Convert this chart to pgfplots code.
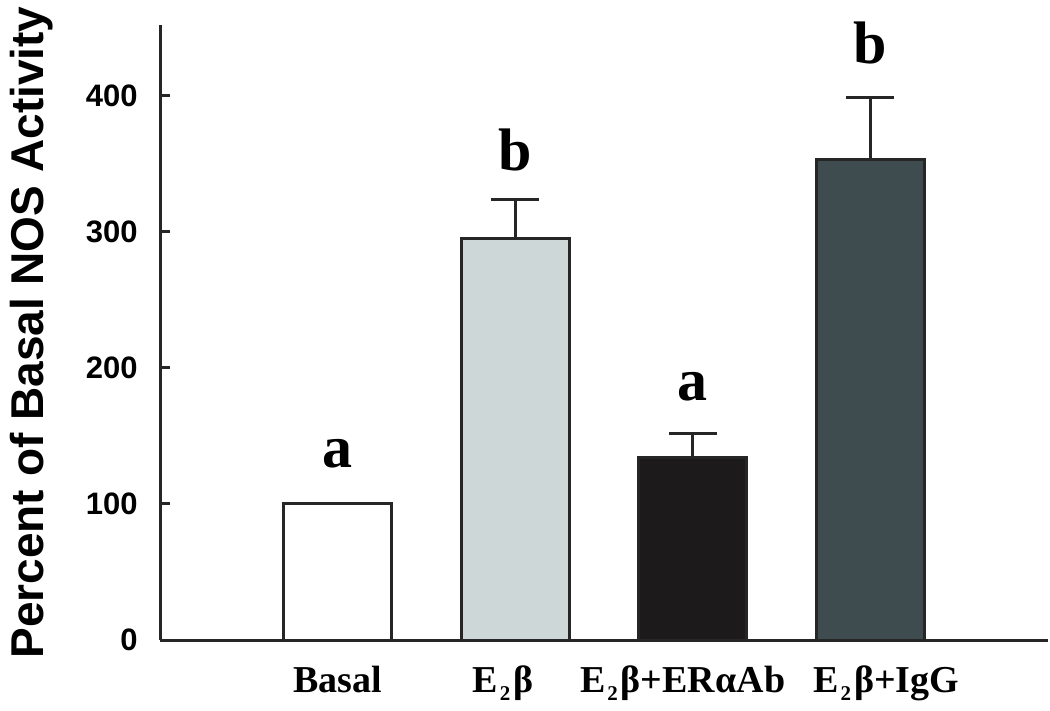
\documentclass[border=0pt]{standalone}
\usepackage{pgfplots}
\pgfplotsset{compat=1.18}
\usepackage{fontspec}
\setmainfont{Liberation Serif}
\newfontfamily\arial{Liberation Sans}
\definecolor{lightbar}{HTML}{CDD7D7}
\definecolor{blackbar}{HTML}{1C1A1A}
\definecolor{slatebar}{HTML}{3E4B4F}
\definecolor{edge}{HTML}{262626}
\newcommand{\Etwo}{E\kern0.8pt\raisebox{-4pt}{\fontsize{10.5}{10.5}\selectfont 2}\kern1.5pt}
\begin{document}
\begin{tikzpicture}
\begin{axis}[
  scale only axis, width=444pt, height=307.5pt,
  xmin=0, xmax=5, ymin=0, ymax=452,
  ybar,
  axis lines*=left,
  axis line style={line width=1.5pt, edge},
  ytick={0,100,200,300,400},
  tick align=inside, major tick length=5pt,
  ytick style={line width=1.5pt, edge},
  xtick={1,2,3,4},
  xtick style={draw=none},
  xticklabels={Basal, \hspace*{-12pt}\Etwo β, \hspace*{-10pt}\Etwo β+ERαAb, \hspace*{16pt}\Etwo β+IgG},
  xticklabel style={anchor=base, yshift=-26pt, font=\fontsize{19}{19}\selectfont\bfseries},
  yticklabel style={anchor=east, inner sep=0pt, xshift=-11pt, font=\fontsize{15.5}{15.5}\selectfont\arial\bfseries},
  /pgf/number format/assume math mode=true,
  ylabel={Percent of Basal NOS Activity},
  ylabel style={at={(axis description cs:-0.145,0.5)}, anchor=center, font=\fontsize{23}{23}\selectfont\arial\bfseries},
  clip=false,
]
\addplot[ybar, bar width=54pt, bar shift=0pt, fill=white, draw=edge, line width=1.5pt]
  coordinates {(1,100)};
\addplot[ybar, bar width=54pt, bar shift=0pt, fill=lightbar, draw=edge, line width=1.5pt,
  error bars/.cd, y dir=plus, y explicit,
  error bar style={line width=1.4pt, draw=edge},
  error mark options={rotate=90, mark size=12pt, line width=1.6pt, draw=edge}]
  coordinates {(2,295) +- (0,29)};
\addplot[ybar, bar width=54pt, bar shift=0pt, fill=blackbar, draw=edge, line width=1.5pt,
  error bars/.cd, y dir=plus, y explicit,
  error bar style={line width=1.4pt, draw=edge},
  error mark options={rotate=90, mark size=12pt, line width=1.6pt, draw=edge}]
  coordinates {(3,134) +- (0,18)};
\addplot[ybar, bar width=54pt, bar shift=0pt, fill=slatebar, draw=edge, line width=1.5pt,
  error bars/.cd, y dir=plus, y explicit,
  error bar style={line width=1.4pt, draw=edge},
  error mark options={rotate=90, mark size=12pt, line width=1.6pt, draw=edge}]
  coordinates {(4,353) +- (0,46)};
\node[anchor=base, font=\fontsize{30}{30}\selectfont\bfseries] at (axis cs:1,127) {a};
\node[anchor=base, font=\fontsize{30}{30}\selectfont\bfseries] at (axis cs:2,345) {b};
\node[anchor=base, font=\fontsize{30}{30}\selectfont\bfseries] at (axis cs:3,176) {a};
\node[anchor=base, font=\fontsize{30}{30}\selectfont\bfseries] at (axis cs:4,423.5) {b};
\end{axis}
\pgfresetboundingbox
\path ([xshift=-80pt,yshift=-35pt]current axis.south west) rectangle ([xshift=1pt,yshift=12.5pt]current axis.north east);
\end{tikzpicture}
\end{document}
